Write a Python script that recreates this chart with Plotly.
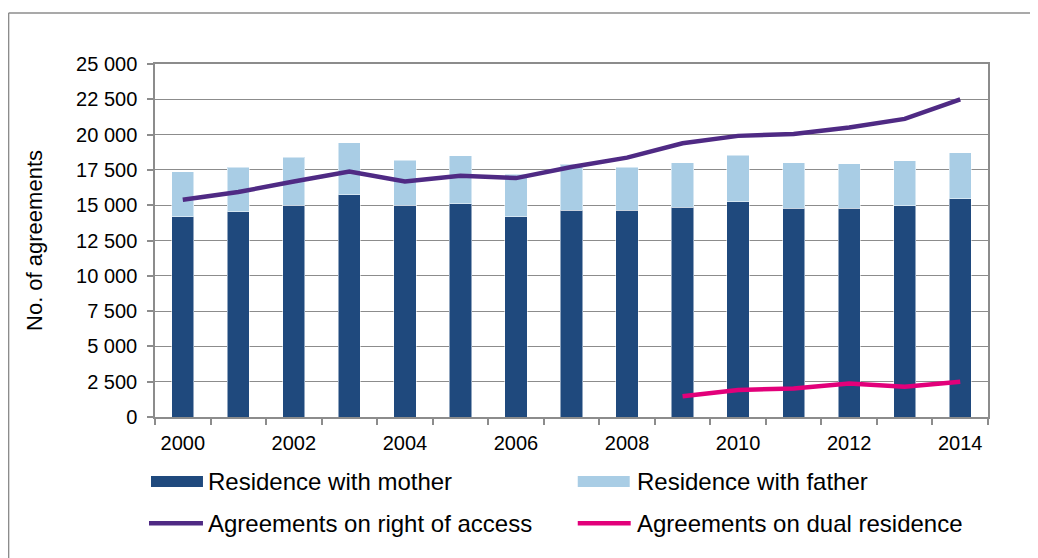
import plotly.graph_objects as go

years = list(range(2000, 2015))
mother = [14200, 14550, 14980, 15740, 14980, 15100, 14200, 14630, 14630, 14870, 15260, 14800, 14800, 14960, 15470]
father = [3160, 3150, 3420, 3690, 3210, 3420, 3000, 3280, 3070, 3150, 3280, 3220, 3150, 3200, 3260]
access = [15380, 15930, 16680, 17380, 16680, 17080, 16920, 17700, 18370, 19390, 19910, 20050, 20500, 21110, 22500]
dual_years = [2009, 2010, 2011, 2012, 2013, 2014]
dual = [1470, 1920, 2020, 2370, 2140, 2490]
y_ticks = list(range(0, 25001, 2500))
x_ticks = list(range(2000, 2015, 2))

names = ["Residence with mother", "Residence with father",
         "Agreements on right of access", "Agreements on dual residence"]

C_MOTHER = "#1F497D"
C_FATHER = "#A9CDE5"
C_ACCESS = "#4F2A84"
C_DUAL = "#E2007A"
GRID = "#8C8C8C"
FONT = "Liberation Sans, Arial, sans-serif"

OFF = 8  # page offset of the figure (body margin)
W, H = 1038, 558
L, T = 155 - OFF, 64 - OFF
R = W - (988.5 - OFF)
B = H - (417.5 - OFF)
PW, PH = W - L - R, H - T - B


def px(x):
    return (x - OFF - L) / PW


def py(y):
    return (H - B - (y - OFF)) / PH


fig = go.Figure()
fig.add_trace(go.Bar(x=years, y=mother, name=names[0], width=0.4,
                     marker=dict(color=C_MOTHER, line=dict(color="rgba(255,255,255,0.5)", width=1))))
fig.add_trace(go.Bar(x=years, y=father, name=names[1], width=0.4,
                     marker=dict(color=C_FATHER, line=dict(color="rgba(255,255,255,0.5)", width=1))))
fig.add_trace(go.Scatter(x=years, y=access, name=names[2], mode="lines",
                         line=dict(color=C_ACCESS, width=4.5)))
fig.add_trace(go.Scatter(x=dual_years, y=dual, name=names[3], mode="lines",
                         line=dict(color=C_DUAL, width=4.5)))

shapes = []
# outer chart border (top and left edges visible)
shapes.append(dict(type="line", xref="paper", yref="paper",
                   x0=px(8.5), x1=px(1100), y0=py(13), y1=py(13),
                   line=dict(color="#8C8C8C", width=1.5)))
shapes.append(dict(type="line", xref="paper", yref="paper",
                   x0=px(8.5), x1=px(8.5), y0=py(13), y1=py(620),
                   line=dict(color="#8C8C8C", width=1.5)))
# legend symbols
shapes.append(dict(type="rect", xref="paper", yref="paper", x0=px(151), x1=px(203),
                   y0=py(487.5), y1=py(476.5), line=dict(width=0), fillcolor=C_MOTHER))
shapes.append(dict(type="rect", xref="paper", yref="paper", x0=px(578), x1=px(630),
                   y0=py(487.5), y1=py(476.5), line=dict(width=0), fillcolor=C_FATHER))
shapes.append(dict(type="line", xref="paper", yref="paper", x0=px(149), x1=px(203),
                   y0=py(524), y1=py(524), line=dict(color=C_ACCESS, width=4.5)))
shapes.append(dict(type="line", xref="paper", yref="paper", x0=px(578), x1=px(631),
                   y0=py(524), y1=py(524), line=dict(color=C_DUAL, width=4.5)))

annotations = []
for name, x, y in [(names[0], 206, 482), (names[1], 635, 482),
                   (names[2], 206, 524), (names[3], 635, 524)]:
    annotations.append(dict(text=name, xref="paper", yref="paper", x=px(x), y=py(y),
                            xanchor="left", yanchor="middle", showarrow=False,
                            font=dict(family=FONT, size=24, color="black")))

fig.update_layout(
    width=W, height=H,
    margin=dict(l=L, r=R, t=T, b=B),
    paper_bgcolor="white", plot_bgcolor="white",
    barmode="stack",
    showlegend=False,
    separators=". ",
    font=dict(family=FONT, size=20, color="black"),
    shapes=shapes,
    annotations=annotations,
)
fig.update_xaxes(
    range=[1999.5, 2014.5],
    tickmode="array", tickvals=x_ticks,
    ticks="", ticklabelstandoff=7,
    showgrid=False,
    showline=True, linecolor=GRID, linewidth=1.5, mirror=True,
    minor=dict(tick0=1999.5, dtick=1, ticks="outside", ticklen=6,
               tickcolor=GRID, tickwidth=1.5, showgrid=False),
    tickfont=dict(size=20),
)
fig.update_yaxes(
    range=[0, 25000],
    tickmode="array", tickvals=y_ticks, tickformat=",d",
    ticks="outside", ticklen=6, tickcolor=GRID, tickwidth=1.5,
    ticklabelstandoff=6,
    showgrid=True, gridcolor=GRID, gridwidth=1.2,
    showline=True, linecolor=GRID, linewidth=1.5, mirror=True,
    zeroline=False,
    title=dict(text="No. of agreements", font=dict(size=22), standoff=27),
    tickfont=dict(size=20),
)

fig.write_html("out.html")
